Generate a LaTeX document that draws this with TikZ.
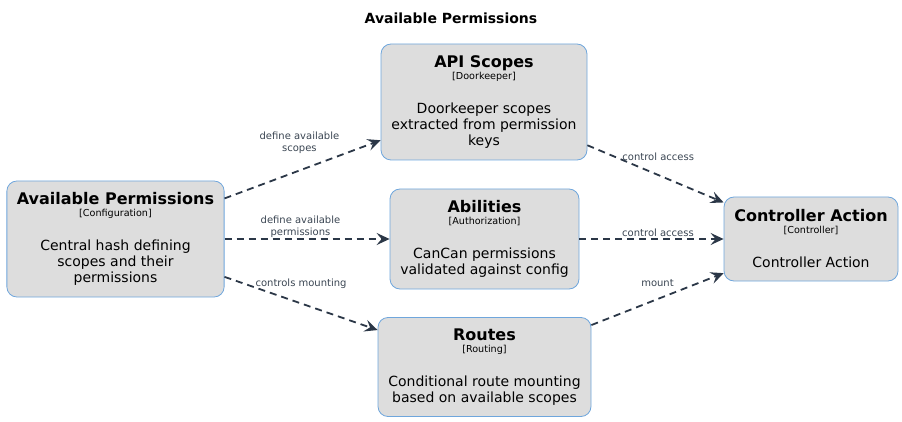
\documentclass[tikz,border=0pt]{standalone}
\usepackage{fontspec}
\setmainfont{DejaVu Sans}
\usepackage{tikz}
\usetikzlibrary{arrows.meta}
\usepackage{xcolor}

\definecolor{boxfill}{HTML}{DDDDDD}
\definecolor{boxline}{HTML}{6FA6DC}
\definecolor{edgecol}{HTML}{2B3747}
\definecolor{lblcol}{HTML}{3A4552}

\newcommand{\boxtitle}[1]{{\fontsize{16}{19}\selectfont\bfseries #1}}
\newcommand{\boxtech}[1]{{\fontsize{9.6}{11}\selectfont #1}}

\begin{document}
\begin{tikzpicture}[
    x=1pt, y=-1pt,
    cbox/.style={rectangle, rounded corners=10pt, draw=boxline, line width=0.8pt, fill=boxfill,
        align=center, inner xsep=10pt, font=\fontsize{14}{16}\selectfont},
    rel/.style={draw=edgecol, line width=1.8pt, dash pattern=on 7pt off 5pt,
        -{Stealth[length=13pt,width=12pt,inset=5pt]}},
    lbl/.style={text=lblcol, font=\fontsize{10}{12}\selectfont, align=center}
]
    \useasboundingbox (0,0) rectangle (902,422);

    % Title
    \node[font=\fontsize{14}{16}\selectfont\bfseries] (title) at (451,18) {Available Permissions};

    % Containers
    \node[cbox, minimum width=217pt, minimum height=116pt] (perms) at (115.5,239)
        {\boxtitle{Available Permissions}\\[-4pt] \boxtech{[Configuration]}\\[18pt]
         Central hash defining\\ scopes and their\\ permissions};
    \node[cbox, minimum width=206pt, minimum height=116pt] (scopes) at (484,102)
        {\boxtitle{API Scopes}\\[-4pt] \boxtech{[Doorkeeper]}\\[18pt]
         Doorkeeper scopes\\ extracted from permission\\ keys};
    \node[cbox, minimum width=189pt, minimum height=100pt] (abilities) at (484.5,239)
        {\boxtitle{Abilities}\\[-4pt] \boxtech{[Authorization]}\\[18pt]
         CanCan permissions\\ validated against config};
    \node[cbox, minimum width=213pt, minimum height=99pt] (routes) at (484.5,367)
        {\boxtitle{Routes}\\[-4pt] \boxtech{[Routing]}\\[18pt]
         Conditional route mounting\\ based on available scopes};
    \node[cbox, minimum width=174pt, minimum height=84pt] (action) at (811,239)
        {\boxtitle{Controller Action}\\[-4pt] \boxtech{[Controller]}\\[18pt]
         Controller Action};

    % Relations
    \draw[rel] (perms) -- node[lbl, pos=0.48, yshift=28pt] {define available\\ scopes} (scopes);
    \draw[rel] (perms) -- node[lbl, pos=0.46, yshift=12pt] {define available\\ permissions} (abilities);
    \draw[rel] (perms) -- node[lbl, pos=0.5, yshift=20pt] {controls mounting} (routes);
    \draw[rel] (scopes) -- node[lbl, pos=0.52, yshift=18pt] {control access} (action);
    \draw[rel] (abilities) -- node[lbl, pos=0.545, yshift=6pt] {control access} (action);
    \draw[rel] (routes) -- node[lbl, pos=0.5, yshift=16pt] {mount} (action);
\end{tikzpicture}
\end{document}
